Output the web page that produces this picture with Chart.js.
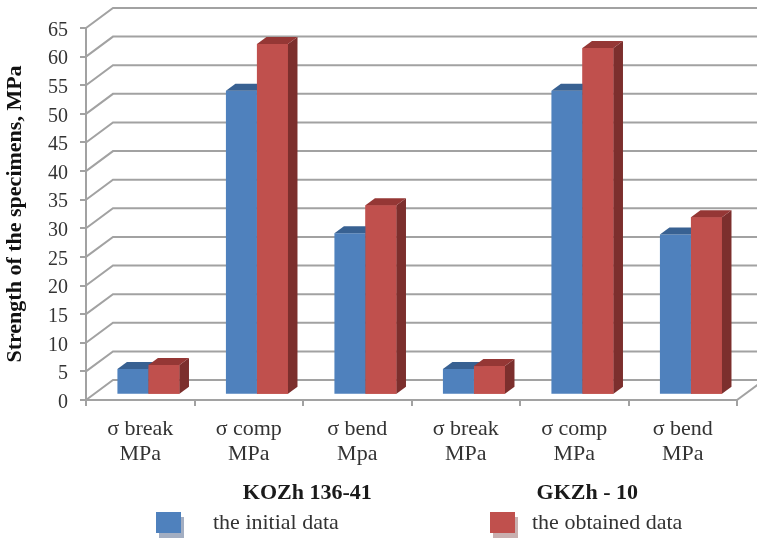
<!DOCTYPE html>
<html>
<head>
<meta charset="utf-8">
<title>Strength of the specimens</title>
<script src="https://cdn.jsdelivr.net/npm/chart.js@4/dist/chart.umd.min.js"></script>
<style>
  html, body { margin: 0; padding: 0; background: #fff; }
  #wrap { width: 757px; height: 538px; }
</style>
</head>
<body>
<div id="wrap"><canvas id="grafico" width="757" height="538"></canvas></div>
<script>
const categories = [
  ["σ break", "MPa"], ["σ comp", "MPa"], ["σ bend", "Mpa"],
  ["σ break", "MPa"], ["σ comp", "MPa"], ["σ bend", "MPa"]
];
const initialData = [4.5, 53.1, 28.2, 4.5, 53.1, 28.0];
const obtainedData = [5.2, 61.3, 33.1, 5.0, 60.6, 31.0];
const seriesNames = ["the initial data", "the obtained data"];
const groupNames = ["KOZh 136-41", "GKZh - 10"];
const yTitle = "Strength of the specimens, MPa";

const SERIF = "'Liberation Serif', serif";
const GRID = "#a2a2a2";
const WALL = { dx: 27, dy: -20 };   // front plane to back wall
const BAR_PLANE = { dx: 8.2, dy: -5.3 };
const BAR_DEPTH = { dx: 9.5, dy: -7 };
const SHADES = [
  { top: "#386192", side: "#2f5480" },
  { top: "#953735", side: "#7c2f2d" }
];

function poly(ctx, pts, color) {
  ctx.fillStyle = color;
  ctx.beginPath();
  pts.forEach((p, i) => i ? ctx.lineTo(p[0], p[1]) : ctx.moveTo(p[0], p[1]));
  ctx.closePath();
  ctx.fill();
}

// Left wall diagonals, back wall lines and the floor edge
const wallPlugin = {
  id: "wall",
  beforeDatasetsDraw(chart) {
    const { ctx, scales: { x, y } } = chart;
    ctx.save();
    ctx.strokeStyle = GRID;
    ctx.lineWidth = 2;
    y.ticks.forEach(t => {
      const py = y.getPixelForValue(t.value);
      ctx.beginPath();
      ctx.moveTo(x.left, py);
      ctx.lineTo(x.left + WALL.dx, py + WALL.dy);
      ctx.lineTo(x.right + WALL.dx, py + WALL.dy);
      ctx.stroke();
    });
    ctx.beginPath();
    ctx.moveTo(x.right, y.bottom);
    ctx.lineTo(x.right + WALL.dx, y.bottom + WALL.dy);
    ctx.stroke();
    ctx.restore();
  }
};

// Bars sit a little behind the front plane and get a top and a side face
const barsPlugin = {
  id: "bars3d",
  beforeDatasetDraw(chart) {
    chart.ctx.save();
    chart.ctx.translate(BAR_PLANE.dx, BAR_PLANE.dy);
  },
  afterDatasetDraw(chart) {
    chart.ctx.restore();
  },
  afterDatasetsDraw(chart) {
    const ctx = chart.ctx;
    const faces = (meta, shade) => meta.data.forEach(bar => {
      const l = bar.x - bar.width / 2, r = bar.x + bar.width / 2;
      const d = BAR_DEPTH;
      poly(ctx, [[r, bar.y], [r + d.dx, bar.y + d.dy], [r + d.dx, bar.base + d.dy], [r, bar.base]], shade.side);
      poly(ctx, [[l, bar.y], [l + d.dx, bar.y + d.dy], [r + d.dx, bar.y + d.dy], [r, bar.y]], shade.top);
    });
    ctx.save();
    ctx.translate(BAR_PLANE.dx, BAR_PLANE.dy);
    // left series faces go first, the right series front covers them again
    faces(chart.getDatasetMeta(0), SHADES[0]);
    chart.getDatasetMeta(1).data.forEach(bar => bar.draw(ctx));
    faces(chart.getDatasetMeta(1), SHADES[1]);
    ctx.restore();
  }
};

// Value axis labels, group names under the categories and the legend row
const labelsPlugin = {
  id: "labels",
  afterDraw(chart) {
    const { ctx, scales: { x, y } } = chart;
    const cw = x.getPixelForTick(1) - x.getPixelForTick(0);
    ctx.save();
    ctx.textBaseline = "middle";

    ctx.textAlign = "right";
    ctx.fillStyle = "#333";
    ctx.font = "20px " + SERIF;
    y.ticks.forEach(t => ctx.fillText(t.label, 68, y.getPixelForValue(t.value) + 2.5));

    ctx.textAlign = "center";
    ctx.fillStyle = "#1a1a1a";
    ctx.font = "bold 22px " + SERIF;
    ctx.fillText(groupNames[0], x.getPixelForTick(1) + cw * 0.54, 493);
    ctx.fillText(groupNames[1], x.getPixelForTick(4) + cw * 0.12, 493);

    const keys = [
      { x: 156, tx: 213, shadow: "#a3aec2" },
      { x: 490, tx: 532, shadow: "#c9b0b0" }
    ];
    ctx.textAlign = "left";
    ctx.font = "22px " + SERIF;
    chart.data.datasets.forEach((ds, i) => {
      const k = keys[i];
      ctx.fillStyle = k.shadow;
      ctx.fillRect(k.x + 3, 517, 25, 21);
      ctx.fillStyle = ds.backgroundColor;
      ctx.fillRect(k.x, 512, 25, 21);
      ctx.fillStyle = "#333";
      ctx.fillText(ds.label, k.tx, 523);
    });
    ctx.restore();
  }
};

new Chart(document.getElementById("grafico"), {
  type: "bar",
  data: {
    labels: categories,
    datasets: [
      { label: seriesNames[0], data: initialData, backgroundColor: "#4f81bd" },
      { label: seriesNames[1], data: obtainedData, backgroundColor: "#c0504d" }
    ]
  },
  options: {
    responsive: false,
    animation: false,
    layout: { padding: { top: 28, right: 20 } },
    datasets: { bar: { barPercentage: 1, categoryPercentage: 0.572, borderWidth: 0 } },
    plugins: { legend: { display: false }, tooltip: { enabled: false } },
    scales: {
      x: {
        afterFit(s) { s.height = 138; },
        grid: { drawOnChartArea: false, color: GRID, lineWidth: 2, tickLength: 6 },
        border: { color: GRID, width: 2 },
        ticks: {
          color: "#333",
          padding: 11,
          maxRotation: 0,
          autoSkip: false,
          font: { family: SERIF, size: 22, lineHeight: 1.14 }
        }
      },
      y: {
        min: 0,
        max: 65,
        afterFit(s) { s.width = 86; },
        grid: { drawOnChartArea: false, color: GRID, lineWidth: 2, tickLength: 6 },
        border: { color: GRID, width: 2 },
        ticks: { display: false, stepSize: 5 },
        title: {
          display: true,
          text: yTitle,
          color: "#111",
          padding: { top: 2, bottom: 0 },
          font: { family: SERIF, size: 22, weight: "bold" }
        }
      }
    }
  },
  plugins: [wallPlugin, barsPlugin, labelsPlugin]
});
</script>
</body>
</html>
